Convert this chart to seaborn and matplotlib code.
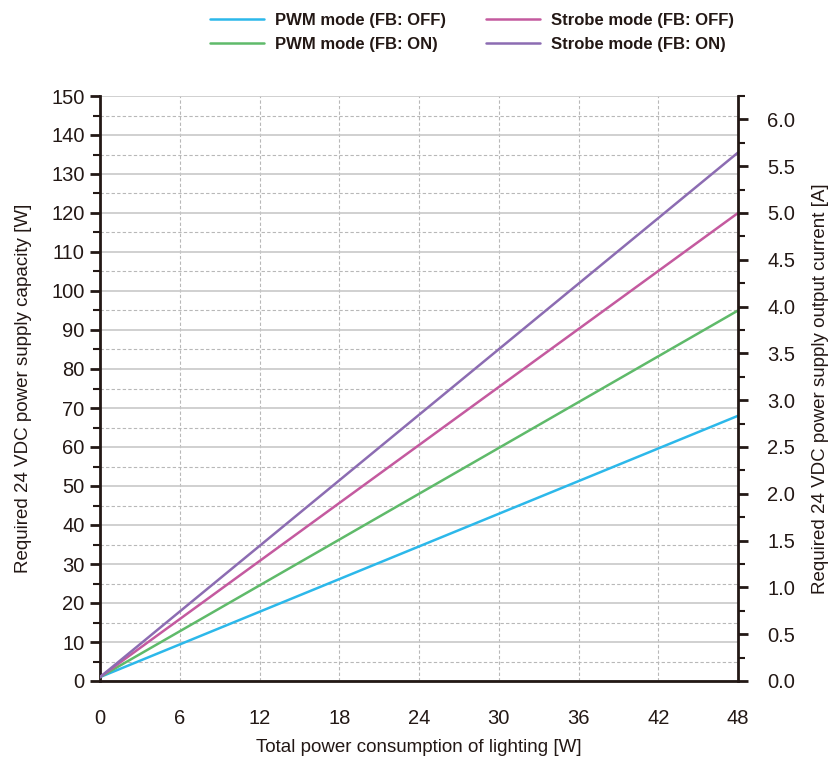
import numpy as np
import pandas as pd
import seaborn as sns
import matplotlib.pyplot as plt
from matplotlib.ticker import MultipleLocator, FormatStrFormatter

sns.set_theme(style="white")
plt.rcParams['font.family'] = ['Liberation Sans', 'DejaVu Sans']

# data
power = [0, 48]
pwm_off = [1.0, 68.0]
pwm_on = [1.0, 95.0]
strobe_off = [1.0, 120.0]
strobe_on = [1.0, 135.5]
series_names = ['PWM mode (FB: OFF)', 'PWM mode (FB: ON)',
                'Strobe mode (FB: OFF)', 'Strobe mode (FB: ON)']
colours = ['#2cb8ea', '#5fba6a', '#c45a9f', '#8c6cb2']

rows = []
for name, vals in zip(series_names, [pwm_off, pwm_on, strobe_off, strobe_on]):
    for x, y in zip(power, vals):
        rows.append([name, x, y])
df = pd.DataFrame(rows, columns=['Series', 'Power', 'Capacity'])

fig = plt.figure(figsize=(8.33, 7.62), dpi=100)
ax = fig.add_axes([100/833, 1-681/762, 638/833, 585/762])

sns.lineplot(data=df, x='Power', y='Capacity', hue='Series', palette=colours,
             hue_order=series_names, linewidth=1.8, ax=ax, legend=True, zorder=3)

ax.set_xlim(0, 48)
ax.set_ylim(0, 150)
ax.xaxis.set_major_locator(MultipleLocator(6))
ax.xaxis.set_minor_locator(MultipleLocator(1))
ax.yaxis.set_major_locator(MultipleLocator(10))
ax.yaxis.set_minor_locator(MultipleLocator(5))

# grid
ax.grid(True, which='major', axis='y', color='#c8c8c8', linestyle='-', linewidth=1.2)
ax.grid(True, which='minor', axis='y', color='#b8b8b8', linestyle=(0, (3, 2)), linewidth=0.8)
ax.grid(True, which='major', axis='x', color='#b8b8b8', linestyle=(0, (3, 2)), linewidth=0.8)
ax.set_axisbelow(True)

for s in ['top', 'right']:
    ax.spines[s].set_visible(False)
for s in ['left', 'bottom']:
    ax.spines[s].set_color('#231815')
    ax.spines[s].set_linewidth(2)

ax.tick_params(axis='both', which='major', direction='out', length=7, width=2,
               color='#231815', labelsize=14.5, labelcolor='#231815', pad=4)
ax.tick_params(axis='both', which='minor', direction='out', length=5, width=1.5,
               color='#231815')
ax.tick_params(axis='x', which='major', pad=13)

ax.set_xlabel('Total power consumption of lighting [W]', fontsize=13.5, color='#231815', labelpad=8)
ax.set_ylabel('Required 24 VDC power supply capacity [W]', fontsize=13.5, color='#231815', labelpad=14)

# right axis: current at 24 V
ax2 = ax.twinx()
ax2.set_ylim(0, 150/24)
ax2.yaxis.set_major_locator(MultipleLocator(0.5))
ax2.yaxis.set_minor_locator(MultipleLocator(0.25))
ax2.yaxis.set_major_formatter(FormatStrFormatter('%.1f'))
for s in ['top', 'left', 'bottom']:
    ax2.spines[s].set_visible(False)
ax2.spines['right'].set_color('#231815')
ax2.spines['right'].set_linewidth(2)
ax2.tick_params(axis='y', which='major', direction='out', length=7, width=2,
                color='#231815', labelsize=14.5, labelcolor='#231815', pad=14)
ax2.tick_params(axis='y', which='minor', direction='out', length=5, width=1.5, color='#231815')
ax2.set_ylabel('Required 24 VDC power supply output current [A]', fontsize=13.5,
               color='#231815', labelpad=12)
ax2.grid(False)

# legend on top
handles, labels = ax.get_legend_handles_labels()
ax.get_legend().remove()
leg = fig.legend(handles, labels,
                 loc='upper center', bbox_to_anchor=(0.567, 1.003), ncol=2, frameon=False,
                 prop={'weight': 'bold', 'size': 12}, handlelength=3.2, handletextpad=0.7,
                 columnspacing=2.4, labelspacing=0.55)
for t in leg.get_texts():
    t.set_color('#231815')

fig.savefig('out.png', dpi=100)
